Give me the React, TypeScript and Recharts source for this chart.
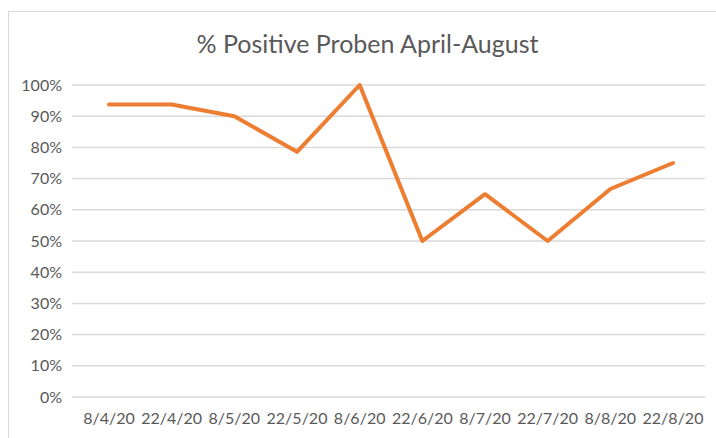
import React from 'react';
import { LineChart, Line, XAxis, YAxis, CartesianGrid } from 'recharts';

const dates = ['8/4/20', '22/4/20', '8/5/20', '22/5/20', '8/6/20', '22/6/20', '8/7/20', '22/7/20', '8/8/20', '22/8/20'];
const positive = [0.9375, 0.9375, 0.9, 0.7857, 1.0, 0.5, 0.65, 0.5, 0.6667, 0.75];
const yTicks = [0, 0.1, 0.2, 0.3, 0.4, 0.5, 0.6, 0.7, 0.8, 0.9, 1.0];

const data = dates.map((d, i) => ({ date: d, value: positive[i] }));

const font = 'Lato, "Open Sans", sans-serif';
const textColor = '#595959';

export default function App() {
  return (
    <div style={{ position: 'absolute', left: 0, top: 0, width: 716, height: 438, background: '#fff', overflow: 'hidden' }}>
      <div
        style={{
          position: 'absolute',
          left: 8,
          top: 11,
          width: 720,
          height: 440,
          border: '1.5px solid #d9d9d9',
          boxSizing: 'border-box',
        }}
      />
      <div
        style={{
          position: 'absolute',
          left: 0,
          width: 735,
          top: 27,
          textAlign: 'center',
          fontFamily: font,
          fontSize: 25,
          color: textColor,
          lineHeight: '32px',
        }}
      >
        % Positive Proben April-August
      </div>
      <div style={{ position: 'absolute', left: 0, top: 0 }}>
        <LineChart width={716} height={438} data={data} margin={{ top: 85, right: 11, left: 0, bottom: 11 }}>
          <CartesianGrid vertical={false} stroke="#d9d9d9" strokeWidth={1.5} />
          <XAxis
            dataKey="date"
            axisLine={false}
            tickLine={false}
            tickSize={0}
            tickMargin={16}
            height={30}
            interval={0}
            padding={{ left: 37, right: 32 }}
            tick={{ fill: textColor, fontSize: 16, fontFamily: font }}
          />
          <YAxis
            domain={[0, 1]}
            ticks={yTicks}
            tickFormatter={(v: number) => `${Math.round(v * 100)}%`}
            axisLine={false}
            tickLine={false}
            tickSize={0}
            tickMargin={10}
            width={72}
            tick={{ fill: textColor, fontSize: 16, fontFamily: font }}
          />
          <Line
            type="linear"
            dataKey="value"
            stroke="#ED7D31"
            strokeWidth={4}
            dot={false}
            activeDot={false}
            strokeLinecap="round"
            strokeLinejoin="round"
            isAnimationActive={false}
          />
        </LineChart>
      </div>
    </div>
  );
}
